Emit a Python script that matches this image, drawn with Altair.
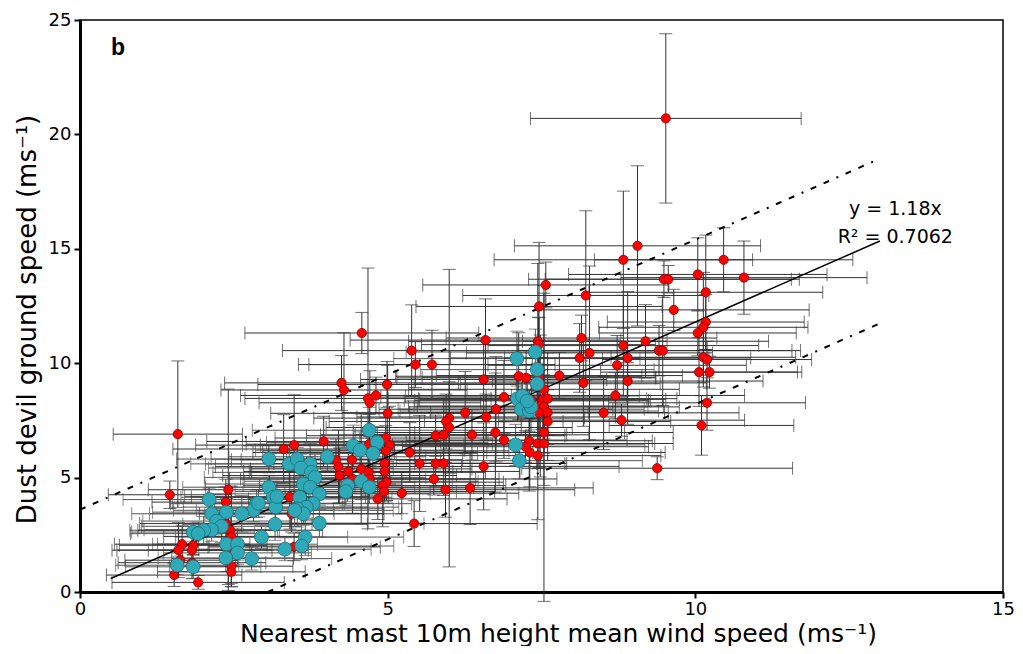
import altair as alt
import pandas as pd

# ---------------- data ----------------
red_x = [1.59, 1.46, 2.41, 2.37, 2.37, 2.44, 2.46, 2.41, 2.46, 2.46, 1.66, 1.84, 1.60, 1.82, 1.63, 1.82, 1.53, 1.92,
         3.41, 3.44, 3.48, 3.31, 3.48, 3.96, 4.16, 4.20, 4.42, 4.22, 4.36, 4.43, 4.57, 4.69, 4.71, 4.25, 4.29, 4.99,
         4.68, 4.71, 4.81, 5.00, 4.70, 4.97, 5.03, 4.71, 4.97, 4.95, 4.95, 4.98, 4.92, 4.94, 4.84, 4.58, 7.46, 5.39,
         5.45, 5.72, 6.59, 6.56, 7.44, 7.45, 8.15, 8.28, 8.12, 8.83, 9.19, 9.41, 9.47, 9.65, 8.90, 8.73, 8.90, 8.18,
         8.70, 8.51, 8.80, 9.38, 7.13, 7.25, 7.46, 7.79, 7.54, 7.52, 7.60, 7.34, 7.48, 7.54, 7.46, 7.60, 7.60, 7.54,
         7.30, 7.44, 7.54, 7.24, 7.31, 7.44, 6.89, 6.76, 6.60, 6.26, 6.00, 5.95, 6.00, 5.78, 5.91, 6.37, 6.75, 6.89,
         5.36, 5.52, 5.78, 5.91, 6.56, 5.75, 5.94, 6.34, 5.23, 5.43, 9.52, 9.06, 8.83, 10.46, 10.79, 9.49, 9.56,
         10.04, 10.17, 8.22, 10.17, 10.13, 10.04, 10.13, 10.19, 10.06, 10.23, 10.19, 10.10, 7.57]
red_y = [6.90, 4.25, 4.47, 3.93, 2.99, 2.70, 2.43, 1.83, 1.13, 0.88, 2.09, 2.04, 1.83, 1.83, 1.39, 1.28, 0.74, 0.42,
         4.15, 3.42, 1.97, 6.25, 6.42, 6.58, 5.78, 5.48, 5.78, 5.09, 5.27, 4.94, 5.38, 5.23, 4.94, 9.14, 8.83, 9.07,
         8.46, 8.27, 8.59, 7.81, 6.46, 6.73, 6.42, 6.10, 6.17, 5.62, 5.27, 4.80, 4.65, 4.39, 4.07, 11.32, 12.48, 10.55,
         9.94, 9.94, 11.01, 9.29, 10.96, 10.81, 11.10, 10.45, 10.23, 10.77, 10.96, 10.55, 10.55, 12.33, 10.23, 9.91,
         9.22, 9.14, 8.59, 7.83, 7.51, 5.41, 9.43, 9.36, 9.39, 9.46, 8.86, 8.42, 8.45, 8.38, 8.13, 8.09, 7.84, 7.84,
         7.45, 6.97, 6.61, 6.49, 6.49, 6.35, 6.10, 5.96, 8.52, 7.99, 7.65, 7.84, 7.60, 7.45, 7.19, 6.83, 6.87, 6.87,
         6.97, 6.64, 6.10, 5.62, 5.62, 5.62, 5.49, 4.94, 4.47, 4.55, 4.32, 2.99, 20.70, 15.13, 14.52, 14.52, 13.74,
         13.67, 13.67, 13.88, 13.10, 12.96, 11.80, 11.57, 11.32, 10.26, 10.16, 9.61, 9.61, 8.27, 7.28, 13.42]
red_xerr = [1.05, 1.0, 1.3, 1.2, 1.4, 1.5, 1.1, 1.3, 1.0, 1.2, 1.1, 1.2, 1.0, 1.3, 0.9, 1.2, 1.1, 1.4,
            1.6, 1.5, 1.4, 1.8, 1.6, 1.9, 1.7, 2.0, 1.8, 1.9, 1.7, 2.0, 1.8, 1.9, 2.1, 1.9, 2.0, 2.1,
            2.0, 1.8, 2.2, 1.9, 2.0, 1.8, 2.1, 1.9, 2.0, 1.8, 2.2, 1.9, 2.0, 1.8, 2.1, 1.9, 2.0, 2.1,
            1.9, 2.0, 2.2, 2.0, 2.1, 1.9, 2.2, 2.0, 2.1, 2.2, 2.0, 2.3, 2.1, 2.2, 2.0, 2.1, 2.2, 2.0,
            2.1, 2.2, 2.0, 2.2, 2.0, 2.1, 1.9, 2.0, 2.2, 2.0, 2.1, 1.9, 2.0, 2.2, 2.1, 1.9, 2.0, 2.1,
            2.0, 1.9, 2.1, 2.0, 2.2, 2.0, 2.0, 1.9, 2.1, 2.0, 2.2, 1.9, 2.0, 2.1, 2.0, 1.9, 2.1, 2.0,
            2.0, 1.9, 2.1, 2.0, 2.2, 2.0, 2.1, 2.0, 1.9, 2.0, 2.2, 2.0, 2.1, 2.1, 2.0, 2.2, 2.0,
            2.1, 1.9, 2.0, 1.6, 1.7, 1.6, 1.5, 1.7, 1.6, 1.5, 1.6, 1.5, 2.0]
red_yerr = [3.2, 0.6, 4.4, 1.0, 1.6, 0.6, 2.2, 1.5, 0.9, 0.5, 0.8, 0.4, 1.2, 0.6, 0.5, 0.7, 0.5, 0.3,
            1.4, 0.8, 0.6, 1.5, 2.2, 1.1, 0.9, 1.6, 0.7, 1.2, 0.8, 1.5, 2.4, 1.0, 0.6, 1.2, 2.5, 1.0,
            5.7, 1.4, 0.8, 2.1, 1.3, 0.9, 1.7, 0.7, 1.1, 0.6, 1.3, 0.8, 1.8, 0.5, 0.9, 0.9, 2.8, 2.0,
            1.0, 1.5, 1.8, 1.7, 3.4, 1.2, 1.0, 3.8, 1.5, 2.2, 1.6, 1.1, 2.4, 0.9, 2.9, 1.3, 0.8, 1.9,
            1.0, 1.6, 0.7, 0.5, 1.9, 1.2, 2.6, 1.0, 4.2, 1.3, 2.0, 0.8, 3.1, 1.4, 2.4, 1.0, 1.7, 0.9,
            2.2, 1.1, 6.9, 0.7, 1.5, 2.8, 1.6, 2.3, 1.0, 1.8, 6.5, 1.2, 2.0, 0.9, 1.6, 1.1, 2.6, 0.8,
            1.3, 2.1, 1.0, 1.4, 1.9, 0.7, 1.2, 1.6, 0.9, 1.0, 3.7, 3.5, 3.0, 1.4, 1.6, 0.8, 0.6,
            1.6, 2.5, 3.7, 1.2, 2.4, 1.0, 1.3, 0.8, 1.5, 0.7, 1.2, 1.3, 1.0]

cyan_x = [3.07, 3.40, 3.53, 3.74, 3.59, 3.76, 3.82, 3.07, 3.14, 3.63, 3.74, 3.57, 3.89, 3.79, 3.68, 3.53, 3.63,
          3.18, 2.87, 2.82, 2.63, 2.38, 2.14, 2.10, 2.22, 2.30, 2.14, 2.01, 1.84, 1.92, 3.17, 3.89, 2.95, 3.66,
          3.60, 3.33, 2.38, 2.56, 2.56, 2.37, 2.79, 1.58, 1.84, 3.49, 4.44, 4.55, 4.70, 4.83, 4.76, 4.02, 4.35,
          4.32, 4.57, 4.70, 2.90, 7.10, 7.40, 7.43, 7.43, 7.11, 7.19, 7.17, 7.30, 7.33, 7.27, 7.08, 7.14, 3.20]
cyan_y = [5.81, 5.60, 5.81, 5.60, 5.42, 5.23, 5.01, 4.58, 4.14, 4.72, 4.58, 4.14, 4.29, 3.86, 3.71, 3.64, 3.42,
          3.71, 3.86, 3.57, 3.42, 3.49, 3.42, 4.04, 3.10, 2.87, 2.72, 2.70, 2.62, 2.55, 2.96, 3.01, 2.40, 2.40,
          2.01, 1.87, 2.09, 2.09, 1.71, 1.49, 1.46, 1.17, 1.10, 3.57, 6.39, 6.20, 7.07, 6.54, 6.06, 5.91, 4.65,
          4.39, 4.84, 4.58, 3.88, 10.20, 10.49, 9.72, 9.10, 8.45, 8.57, 7.99, 7.91, 8.09, 8.35, 6.43, 5.74, 4.17]
cyan_xerr = [1.5, 1.6, 1.4, 1.7, 1.5, 1.6, 1.8, 1.4, 1.5, 1.6, 1.7, 1.5, 1.8, 1.6, 1.5, 1.4, 1.6,
             1.5, 1.4, 1.3, 1.5, 1.2, 1.3, 1.4, 1.2, 1.3, 1.1, 1.2, 1.0, 1.1, 1.5, 1.7, 1.4, 1.6,
             1.5, 1.4, 1.2, 1.3, 1.2, 1.1, 1.3, 1.0, 1.1, 1.6, 1.8, 1.7, 1.9, 1.8, 1.7, 1.6, 1.7,
             1.8, 1.9, 1.7, 1.4, 2.0, 2.1, 1.9, 2.0, 2.1, 1.9, 2.0, 2.1, 1.9, 2.0, 2.1, 2.0, 1.5]
cyan_yerr = [0.6, 0.8, 0.5, 0.9, 0.6, 0.7, 1.0, 0.5, 0.7, 0.8, 0.6, 0.9, 0.5, 0.7, 0.6, 0.8, 0.5,
             0.7, 0.6, 0.5, 0.8, 0.6, 0.7, 0.5, 0.6, 0.7, 0.5, 0.6, 0.4, 0.5, 0.7, 0.6, 0.5, 0.8,
             0.6, 0.5, 0.6, 0.7, 0.5, 0.6, 0.5, 0.4, 0.5, 0.7, 0.9, 0.8, 1.0, 0.7, 0.8, 0.6, 0.7,
             0.6, 0.8, 0.7, 0.6, 1.2, 1.0, 1.1, 0.9, 1.0, 0.8, 1.1, 0.9, 1.0, 0.8, 0.9, 0.8, 0.6]

fit_x = [0.5, 13.0]          # regression y = 1.18x
fit_slope = 1.18
band_offset = 3.6            # dashed prediction lines
upper_x = [0.0, 13.0]
lower_x = [3.05, 13.0]

eq_text = ["y = 1.18x", "R² = 0.7062"]
eq_x = [13.25, 13.25]
eq_y = [16.75, 15.5]

panel_label = "b"
x_ticks = [0, 5, 10, 15]
y_ticks = [0, 5, 10, 15, 20, 25]

FONT = "DejaVu Sans, Verdana, sans-serif"

# ---------------- tables ----------------
red = pd.DataFrame({"x": red_x, "y": red_y, "xe": red_xerr, "ye": red_yerr})
cyan = pd.DataFrame({"x": cyan_x, "y": cyan_y, "xe": cyan_xerr, "ye": cyan_yerr})
fit = pd.DataFrame({"x": fit_x, "y": [fit_slope * v for v in fit_x]})
upper = pd.DataFrame({"x": upper_x, "y": [fit_slope * v + band_offset for v in upper_x]})
lower = pd.DataFrame({"x": lower_x, "y": [fit_slope * v - band_offset for v in lower_x]})
eq = pd.DataFrame({"t": eq_text, "x": eq_x, "y": eq_y})

xs = alt.Scale(domain=[0, 15], nice=False, zero=False)
ys = alt.Scale(domain=[0, 25], nice=False, zero=False)

XAX = alt.Axis(title="Nearest mast 10m height mean wind speed (ms⁻¹)", values=x_ticks,
               grid=False, domainWidth=3, domainColor="black", tickColor="black",
               tickWidth=2, tickSize=6, labelPadding=2, labelFontSize=18,
               labelFont=FONT, labelColor="black", titleFont=FONT, titleFontSize=25,
               titleFontWeight="normal", titleColor="black", titleX=478, titleY=41,
               titleBaseline="middle", titleAlign="center", labelFlush=False)
YAX = alt.Axis(title="Dust devil ground speed (ms⁻¹)", values=y_ticks,
               grid=False, domainWidth=3, domainColor="black", tickColor="black",
               tickWidth=2, tickSize=6, labelPadding=3, labelFontSize=18,
               labelFont=FONT, labelColor="black", titleFont=FONT, titleFontSize=26,
               titleFontWeight="normal", titleColor="black", titleX=-53, titleY=299,
               titleBaseline="middle", titleAlign="center", titleAngle=-90, labelFlush=False)


def X(f):
    return alt.X(f, scale=xs, axis=XAX)


def Y(f):
    return alt.Y(f, scale=ys, axis=YAX)


def bars(df, color):
    base = alt.Chart(df).transform_calculate(
        xl="datum.x - datum.xe", xh="datum.x + datum.xe",
        yl="datum.y - datum.ye", yh="datum.y + datum.ye")
    h = base.mark_rule(color=color, strokeWidth=1).encode(x=X("xl:Q"), x2="xh:Q", y=Y("y:Q"))
    v = base.mark_rule(color=color, strokeWidth=1).encode(x=X("x:Q"), y=Y("yl:Q"), y2="yh:Q")
    capl = base.mark_tick(color=color, orient="vertical", size=13, thickness=1).encode(x=X("xl:Q"), y=Y("y:Q"))
    caph = base.mark_tick(color=color, orient="vertical", size=13, thickness=1).encode(x=X("xh:Q"), y=Y("y:Q"))
    capb = base.mark_tick(color=color, orient="horizontal", size=13, thickness=1).encode(x=X("x:Q"), y=Y("yl:Q"))
    capt = base.mark_tick(color=color, orient="horizontal", size=13, thickness=1).encode(x=X("x:Q"), y=Y("yh:Q"))
    return [h, v, capl, caph, capb, capt]


red_pts = alt.Chart(red).mark_circle(size=85, color="#ff0000", opacity=1,
                                     stroke="#8a0000", strokeWidth=0.8).encode(x=X("x:Q"), y=Y("y:Q"))
cyan_pts = alt.Chart(cyan).mark_circle(size=190, color="#2fa9b8", opacity=1,
                                       stroke="#1c6e78", strokeWidth=0.8).encode(x=X("x:Q"), y=Y("y:Q"))

fit_line = alt.Chart(fit).mark_line(color="black", strokeWidth=1.5).encode(x=X("x:Q"), y=Y("y:Q"))
up_line = alt.Chart(upper).mark_line(color="black", strokeWidth=2,
                                     strokeDash=[6, 8, 6, 8, 2, 8]).encode(x=X("x:Q"), y=Y("y:Q"))
lo_line = alt.Chart(lower).mark_line(color="black", strokeWidth=2,
                                     strokeDash=[6, 8, 6, 8, 2, 8]).encode(x=X("x:Q"), y=Y("y:Q"))

eq_txt = alt.Chart(eq).mark_text(font=FONT, fontSize=19, color="black", align="center",
                                 baseline="middle").encode(x=X("x:Q"), y=Y("y:Q"), text="t:N")

b_txt = alt.Chart(pd.DataFrame({"t": [panel_label]})).mark_text(
    font="Liberation Sans, Arial, sans-serif", fontSize=23, fontWeight="bold", color="black",
    align="left", baseline="middle").encode(x=alt.value(31), y=alt.value(28), text="t:N")

layers = bars(cyan, "#555555") + bars(red, "#333333") + [
    fit_line, up_line, lo_line, red_pts, cyan_pts, eq_txt, b_txt]

chart = alt.layer(*layers).properties(
    width=923, height=572,
    autosize=alt.AutoSizeParams(type="none"),
    padding={"left": 72, "top": 12, "right": 12, "bottom": 54},
    background="white",
).configure_view(stroke="black", strokeWidth=1.5)

chart.save("out.html", embed_options={"renderer": "svg", "actions": False})
